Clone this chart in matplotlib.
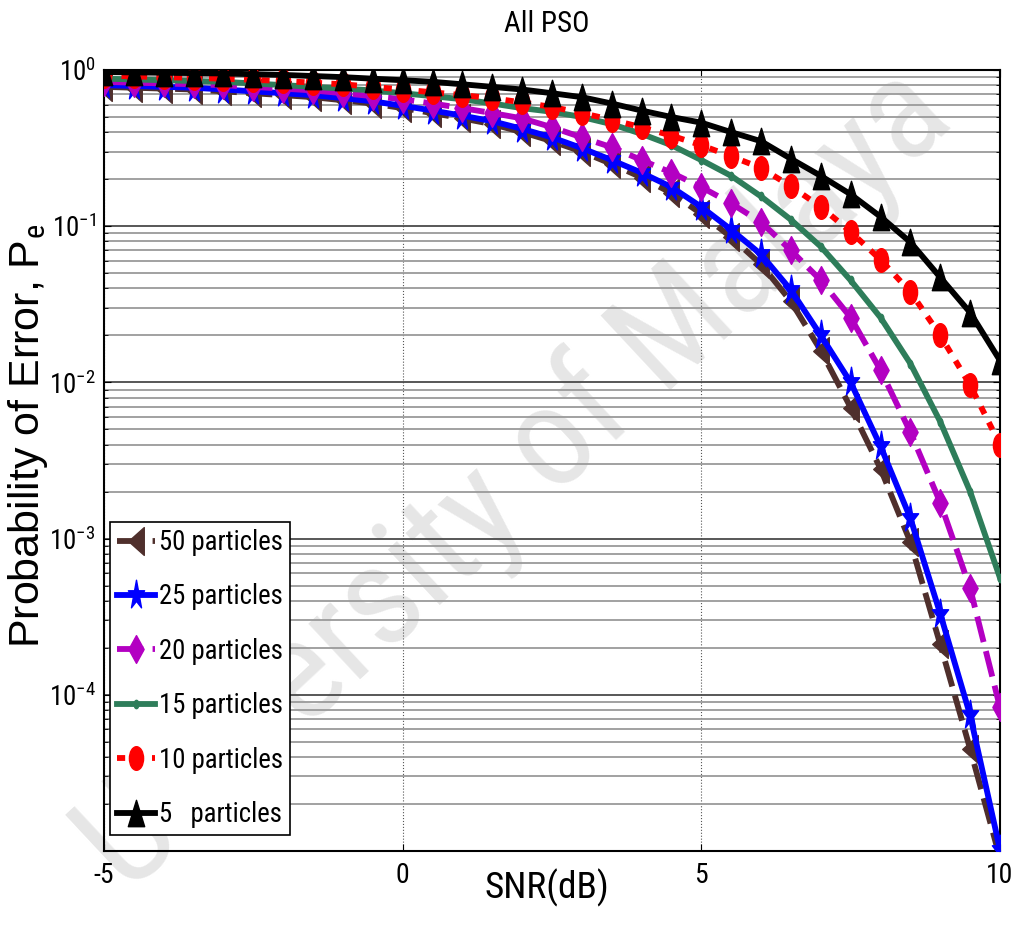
import os
import numpy as np
import matplotlib
matplotlib.use("Agg")
import matplotlib.pyplot as plt
from matplotlib import font_manager as fm
from matplotlib.font_manager import FontProperties
from matplotlib.markers import MarkerStyle
from matplotlib.transforms import Affine2D
from matplotlib.ticker import LogLocator, NullFormatter, FixedLocator

# ---------------- data ----------------
snr = np.arange(-5, 10.01, 0.5)

pe_50 = [0.78, 0.77, 0.76, 0.75, 0.73, 0.71, 0.69, 0.67, 0.64, 0.61, 0.57, 0.53, 0.49, 0.45, 0.40,
         0.35, 0.30, 0.25, 0.205, 0.163, 0.12, 0.085, 0.057, 0.033, 0.016, 0.0069, 0.0028, 0.00095,
         0.00021, 4.5e-5, 9e-6]
pe_25 = [0.80, 0.79, 0.78, 0.77, 0.75, 0.73, 0.71, 0.69, 0.66, 0.63, 0.59, 0.55, 0.51, 0.47, 0.42,
         0.37, 0.316, 0.265, 0.22, 0.178, 0.133, 0.095, 0.066, 0.039, 0.020, 0.010, 0.0039, 0.00135,
         0.00033, 7.4e-5, 1.02e-5]
pe_20 = [0.84, 0.83, 0.82, 0.81, 0.80, 0.78, 0.76, 0.74, 0.71, 0.68, 0.65, 0.61, 0.57, 0.53, 0.49,
         0.43, 0.37, 0.32, 0.265, 0.22, 0.178, 0.14, 0.106, 0.070, 0.045, 0.026, 0.012, 0.0048,
         0.0017, 0.00048, 8.3e-5]
pe_15 = [0.88, 0.87, 0.86, 0.85, 0.84, 0.82, 0.80, 0.78, 0.76, 0.74, 0.71, 0.68, 0.65, 0.61, 0.57,
         0.54, 0.50, 0.45, 0.39, 0.33, 0.265, 0.21, 0.155, 0.11, 0.074, 0.045, 0.026, 0.0132,
         0.0056, 0.0020, 0.00056]
pe_10 = [0.92, 0.91, 0.90, 0.89, 0.88, 0.865, 0.85, 0.83, 0.81, 0.78, 0.75, 0.72, 0.69, 0.66, 0.62,
         0.58, 0.53, 0.48, 0.43, 0.38, 0.33, 0.28, 0.236, 0.18, 0.133, 0.092, 0.061, 0.038,
         0.020, 0.0096, 0.0040]
pe_5 = [0.97, 0.965, 0.96, 0.955, 0.95, 0.94, 0.93, 0.915, 0.90, 0.88, 0.86, 0.84, 0.81, 0.78, 0.75,
        0.71, 0.67, 0.61, 0.55, 0.50, 0.46, 0.40, 0.35, 0.27, 0.21, 0.16, 0.115, 0.079,
        0.047, 0.028, 0.0138]

labels = ["50 particles", "25 particles", "20 particles", "15 particles", "10 particles", "5   particles"]
x_ticks = [-5, 0, 5, 10]
x_ticklabels = ["-5", "0", "5", "10"]
y_ticks = [1e-4, 1e-3, 1e-2, 1e-1, 1]
y_ticklabels = [r"$10^{-4}$", r"$10^{-3}$", r"$10^{-2}$", r"$10^{-1}$", r"$10^{0}$"]

# ---------------- fonts ----------------
def find_condensed():
    prefs = ['liberationsansnarrow', 'notosansextracondensed', 'robotocondensed',
             'notosanscondensed', 'opensanscondensed', 'opensanscond', 'dejavusanscondensed']
    bad = ['bold', 'italic', 'oblique', 'light', 'thin', 'medium', 'black', 'semi', 'heavy']
    found = {}
    for f in fm.fontManager.ttflist:
        key = (f.name + os.path.basename(f.fname)).lower().replace(' ', '').replace('-', '').replace('_', '')
        base = os.path.basename(f.fname).lower()
        if any(b in base for b in bad):
            continue
        if f.style != 'normal':
            continue
        for i, p in enumerate(prefs):
            if p in key:
                found.setdefault(i, f.fname)
    if found:
        return found[min(found)]
    return None

cond_path = find_condensed()
cond_name = 'Liberation Sans'
if cond_path:
    try:
        fm.fontManager.addfont(cond_path)
        cond_name = FontProperties(fname=cond_path).get_name()
    except Exception:
        cond_name = 'Liberation Sans'

plt.rcParams['font.family'] = ['Liberation Sans', 'DejaVu Sans']
plt.rcParams['mathtext.fontset'] = 'custom'
plt.rcParams['mathtext.rm'] = cond_name
plt.rcParams['mathtext.it'] = cond_name

def cprop(size):
    if cond_path:
        return FontProperties(fname=cond_path, size=size)
    return FontProperties(family='Liberation Sans', size=size)

# ---------------- squeezed markers ----------------
SQ = 0.56
def squeeze(m, sx=SQ):
    ms_ = MarkerStyle(m)
    p = ms_.get_path().transformed(ms_.get_transform())
    return MarkerStyle(p.transformed(Affine2D().scale(sx, 1.0)))

mk_left = squeeze('<')
mk_star = squeeze('*')
mk_diam = squeeze('D', 0.55)
mk_dot = squeeze('o')
mk_circ = squeeze('o', 0.6)
mk_up = squeeze('^', 0.62)

# ---------------- figure ----------------
W, H = 1013, 925
fig = plt.figure(figsize=(W / 100, H / 100), dpi=100)
fig.patch.set_facecolor('white')
L, R, T, B = 104, 1000, 70, 851
ax = fig.add_axes([L / W, 1 - B / H, (R - L) / W, (B - T) / H])
ax.patch.set_alpha(0)

def px2ax(x, y):
    return (x - L) / (R - L), (B - y) / (B - T)

# watermark
wm = fig.text(0.51, 0.48, "University of Malaya", fontproperties=cprop(102), color='#e6e6e6',
              rotation=43, ha='center', va='center', zorder=-1, rotation_mode='anchor')

lw = 4.2
ax.plot(snr, pe_50, color='#4f2f2c', ls=(0, (4.5, 1.6)), lw=lw, marker=mk_left, ms=20, label=labels[0], zorder=3)
ax.plot(snr, pe_25, color='#0000ff', ls='-', lw=lw, marker=mk_star, ms=22, label=labels[1], zorder=4)
ax.plot(snr, pe_20, color='#b300c2', ls=(0, (4.5, 1.6)), lw=lw, marker=mk_diam, ms=20, label=labels[2], zorder=5)
ax.plot(snr, pe_15, color='#2e7d5a', ls='-', lw=lw, marker=mk_dot, ms=6, label=labels[3], zorder=6)
ax.plot(snr, pe_10, color='#ff0000', ls=(0, (1.4, 1.6)), lw=lw, marker=mk_circ, ms=17, label=labels[4], zorder=7)
ax.plot(snr, pe_5, color='#000000', ls='-', lw=lw, marker=mk_up, ms=19, label=labels[5], zorder=8)

ax.set_yscale('log')
ax.set_xlim(-5, 10)
ax.set_ylim(1e-5, 1)
ax.xaxis.set_major_locator(FixedLocator(x_ticks))
ax.set_xticklabels(x_ticklabels)
ax.yaxis.set_major_locator(FixedLocator(y_ticks))
ax.set_yticklabels(y_ticklabels)
ax.yaxis.set_minor_locator(LogLocator(base=10, subs=np.arange(2, 10), numticks=20))
ax.yaxis.set_minor_formatter(NullFormatter())

ax.grid(True, which='major', axis='y', color='#4a4a4a', lw=1.3, ls='-')
ax.grid(True, which='minor', axis='y', color='#9a9a9a', lw=1.3, ls='-')
ax.grid(True, which='major', axis='x', color='#555555', lw=0.8, ls=':')
ax.tick_params(which='both', direction='in', top=True, right=True)
ax.tick_params(which='major', length=5)
ax.tick_params(which='minor', length=3)
ax.tick_params(axis='x', which='major', pad=8, labelsize=20, labelfontfamily=cond_name)
for s in ax.spines.values():
    s.set_linewidth(1.5)

xl = ax.set_xlabel("SNR(dB)", fontproperties=cprop(24))
ax.xaxis.set_label_coords(*px2ax(547, 869))
xl.set_va('top')

yl = ax.set_ylabel(r"Probability of Error, P$_\mathrm{e}$", fontsize=31, family='Liberation Sans')
yl.set_rotation_mode('default')
yl.set_ha('left')
yl.set_va('center')
ax.yaxis.set_label_coords(*px2ax(6, 436))

tx, ty = px2ax(547, 32)
title = ax.text(tx, ty, "All PSO", transform=ax.transAxes, ha='center', va='baseline',
                fontproperties=cprop(18))

def make_legend(fs, spacing):
    fs_px = fs * 100 / 72
    lg = ax.legend(loc='lower left', bbox_to_anchor=px2ax(110, 835), borderaxespad=0,
                   prop=cprop(fs), frameon=True, fancybox=False, edgecolor='black',
                   handlelength=38 / fs_px, handletextpad=4 / fs_px, borderpad=7 / fs_px,
                   labelspacing=spacing, framealpha=1)
    lg.get_frame().set_linewidth(1.2)
    return lg

leg_fs = 18
leg = make_legend(leg_fs, 0.6)

# ---------- fit text sizes to reference extents ----------
fig.canvas.draw()
r = fig.canvas.get_renderer()

def fit_w(txt, target):
    bb = txt.get_window_extent(r)
    if bb.width > 0:
        txt.set_fontsize(txt.get_fontsize() * target / bb.width)

fit_w(title, 85)
fit_w(xl, 125)

probe = fig.text(0, 0, r"$10^{-1}$", fontsize=20)
pw = probe.get_window_extent(r).width
ys = 20 * 44 / pw if pw > 0 else 17
probe.remove()
ax.tick_params(axis='y', which='major', pad=6, labelsize=ys)

t0 = leg.get_texts()[0]
wt = t0.get_window_extent(r).width
leg_fs = leg_fs * 124 / wt
leg = make_legend(leg_fs, 0.6)
fig.canvas.draw()
bbl = leg.get_window_extent(r)
fs_px = leg_fs * 100 / 72
sp = 0.6 + (313 - bbl.height) / 5 / fs_px
leg = make_legend(leg_fs, sp)

fig.savefig("out.png", dpi=100)
